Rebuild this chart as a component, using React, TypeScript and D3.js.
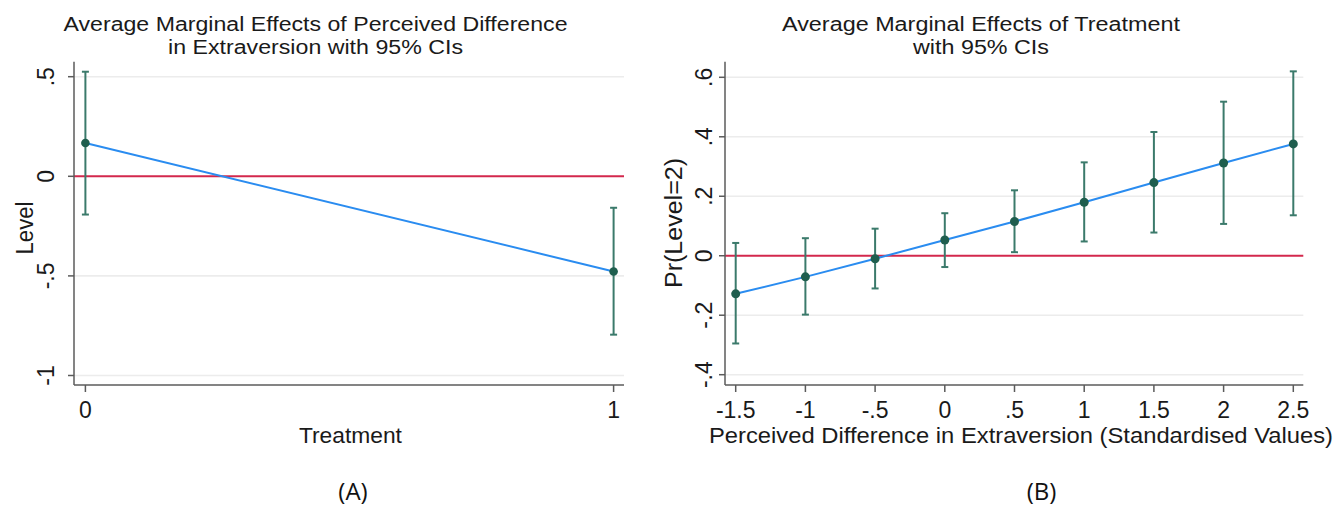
import React from 'react'
import * as d3 from 'd3'

// Panel A: marginal effects of perceived difference by treatment
const treatLevels = [0, 1]
const treatEffect = [0.167, -0.478]
const treatLo = [-0.192, -0.795]
const treatHi = [0.525, -0.158]
const treatYTicks = [-1, -0.5, 0, 0.5]

// Panel B: marginal effects of treatment over perceived difference
const extraLevels = [-1.5, -1, -0.5, 0, 0.5, 1, 1.5, 2, 2.5]
const extraEffect = [-0.128, -0.071, -0.01, 0.053, 0.115, 0.18, 0.246, 0.312, 0.376]
const extraLo = [-0.295, -0.198, -0.11, -0.038, 0.012, 0.048, 0.078, 0.107, 0.136]
const extraHi = [0.043, 0.059, 0.091, 0.143, 0.22, 0.314, 0.416, 0.518, 0.62]
const extraYTicks = [-0.4, -0.2, 0, 0.2, 0.4, 0.6]

const FONT = "'Liberation Sans', Arial, sans-serif"
const AXIS = '#5b5b5b'
const GRID = '#ececec'
const ZERO = '#d3284d'
const LINE = '#2a8cf0'
const BAR = '#3b7a6b'
const DOT = '#1f5e4e'

// stata drops the leading zero: .5, -.5
const fmt = (v: number) => String(v).replace('0.', '.')

type PanelProps = {
  xs: number[]; ys: number[]; lo: number[]; hi: number[]
  xDomain: [number, number]; xRange: [number, number]
  yDomain: [number, number]; yRange: [number, number]
  yTicks: number[]
  axisLeft: number; axisRight: number; axisTop: number; axisBottom: number
  title: string[]; titleX: number; titleLen: number[]
  xLabel: string; xLabelX: number; xLabelLen: number
  yLabel: string; yLabelX: number; yLabelY: number; yLabelLen: number
  yTickX: number
  caption: string; captionX: number
  dotR: number
}

function Panel(p: PanelProps) {
  const x = d3.scaleLinear().domain(p.xDomain).range(p.xRange)
  const y = d3.scaleLinear().domain(p.yDomain).range(p.yRange)
  const pts = p.xs.map((v, i) => ({ x: v, y: p.ys[i], lo: p.lo[i], hi: p.hi[i] }))
  const line = d3.line<{ x: number; y: number }>().x(d => x(d.x)).y(d => y(d.y))
  const cap = 3.5

  return (
    <g fontFamily={FONT} fill="#1a1a1a">
      {p.title.map((t, i) => (
        <text key={t} x={p.titleX} y={31 + i * 22.5} fontSize={20} textAnchor="middle"
          textLength={p.titleLen[i]} lengthAdjust="spacingAndGlyphs">{t}</text>
      ))}

      {/* grid */}
      {p.yTicks.filter(t => t !== 0).map(t => (
        <line key={'g' + t} x1={p.axisLeft} x2={p.axisRight} y1={y(t)} y2={y(t)} stroke={GRID} strokeWidth={1.6} />
      ))}
      <line x1={p.axisLeft} x2={p.axisRight} y1={y(0)} y2={y(0)} stroke={ZERO} strokeWidth={2} />

      {/* axes */}
      <line x1={p.axisLeft} x2={p.axisLeft} y1={p.axisTop} y2={p.axisBottom} stroke={AXIS} strokeWidth={1.5} />
      <line x1={p.axisLeft} x2={p.axisRight} y1={p.axisBottom} y2={p.axisBottom} stroke={AXIS} strokeWidth={1.5} />
      {p.yTicks.map(t => (
        <g key={'y' + t}>
          <line x1={p.axisLeft - 6} x2={p.axisLeft} y1={y(t)} y2={y(t)} stroke={AXIS} strokeWidth={1.5} />
          <text transform={`translate(${p.yTickX},${y(t)}) rotate(-90)`} fontSize={23} textAnchor="middle">{fmt(t)}</text>
        </g>
      ))}
      {p.xs.map(t => (
        <g key={'x' + t}>
          <line x1={x(t)} x2={x(t)} y1={p.axisBottom} y2={p.axisBottom + 7} stroke={AXIS} strokeWidth={1.5} />
          <text x={x(t)} y={418} fontSize={23} textAnchor="middle">{fmt(t)}</text>
        </g>
      ))}
      <text x={p.xLabelX} y={442.5} fontSize={21.5} textAnchor="middle"
        textLength={p.xLabelLen} lengthAdjust="spacingAndGlyphs">{p.xLabel}</text>
      <text transform={`translate(${p.yLabelX},${p.yLabelY}) rotate(-90)`} fontSize={23} textAnchor="middle"
        textLength={p.yLabelLen} lengthAdjust="spacingAndGlyphs">{p.yLabel}</text>

      {/* confidence intervals */}
      {pts.map(d => (
        <g key={'ci' + d.x} stroke={BAR} strokeWidth={2}>
          <line x1={x(d.x)} x2={x(d.x)} y1={y(d.lo)} y2={y(d.hi)} />
          <line x1={x(d.x) - cap} x2={x(d.x) + cap} y1={y(d.lo)} y2={y(d.lo)} />
          <line x1={x(d.x) - cap} x2={x(d.x) + cap} y1={y(d.hi)} y2={y(d.hi)} />
        </g>
      ))}
      <path d={line(pts) || ''} fill="none" stroke={LINE} strokeWidth={2} />
      {pts.map(d => (
        <circle key={'p' + d.x} cx={x(d.x)} cy={y(d.y)} r={p.dotR} fill={DOT} />
      ))}

      <text x={p.captionX} y={500} fontSize={24} textAnchor="middle" fill="#111"
        fontFamily="'Open Sans', 'Noto Sans', sans-serif">{p.caption}</text>
    </g>
  )
}

export default function App() {
  return (
    <svg width={1337} height={507} style={{ position: 'absolute', left: 0, top: 0, background: '#fff' }}>
      <rect width={1337} height={507} fill="#fff" />
      <Panel
        xs={treatLevels} ys={treatEffect} lo={treatLo} hi={treatHi}
        xDomain={[0, 1]} xRange={[85.4, 613.6]}
        yDomain={[-1, 0.5]} yRange={[375.5, 76.7]}
        yTicks={treatYTicks}
        axisLeft={74} axisRight={624} axisTop={61.7} axisBottom={385}
        title={['Average Marginal Effects of Perceived Difference', 'in Extraversion with 95% CIs']}
        titleX={315.5} titleLen={[504, 295]}
        xLabel="Treatment" xLabelX={350.4} xLabelLen={103}
        yLabel="Level" yLabelX={33} yLabelY={228} yLabelLen={53}
        yTickX={53.5}
        caption="(A)" captionX={353}
        dotR={4.3}
      />
      <Panel
        xs={extraLevels} ys={extraEffect} lo={extraLo} hi={extraHi}
        xDomain={[-1.5, 2.5]} xRange={[735.7, 1293.3]}
        yDomain={[-0.4, 0.6]} yRange={[374.7, 77.3]}
        yTicks={extraYTicks}
        axisLeft={725} axisRight={1303.3} axisTop={61.7} axisBottom={385}
        title={['Average Marginal Effects of Treatment', 'with 95% CIs']}
        titleX={981} titleLen={[398, 136]}
        xLabel="Perceived Difference in Extraversion (Standardised Values)" xLabelX={1021} xLabelLen={624}
        yLabel="Pr(Level=2)" yLabelX={682} yLabelY={223} yLabelLen={130}
        yTickX={712}
        caption="(B)" captionX={1041.5}
        dotR={4.5}
      />
    </svg>
  )
}
